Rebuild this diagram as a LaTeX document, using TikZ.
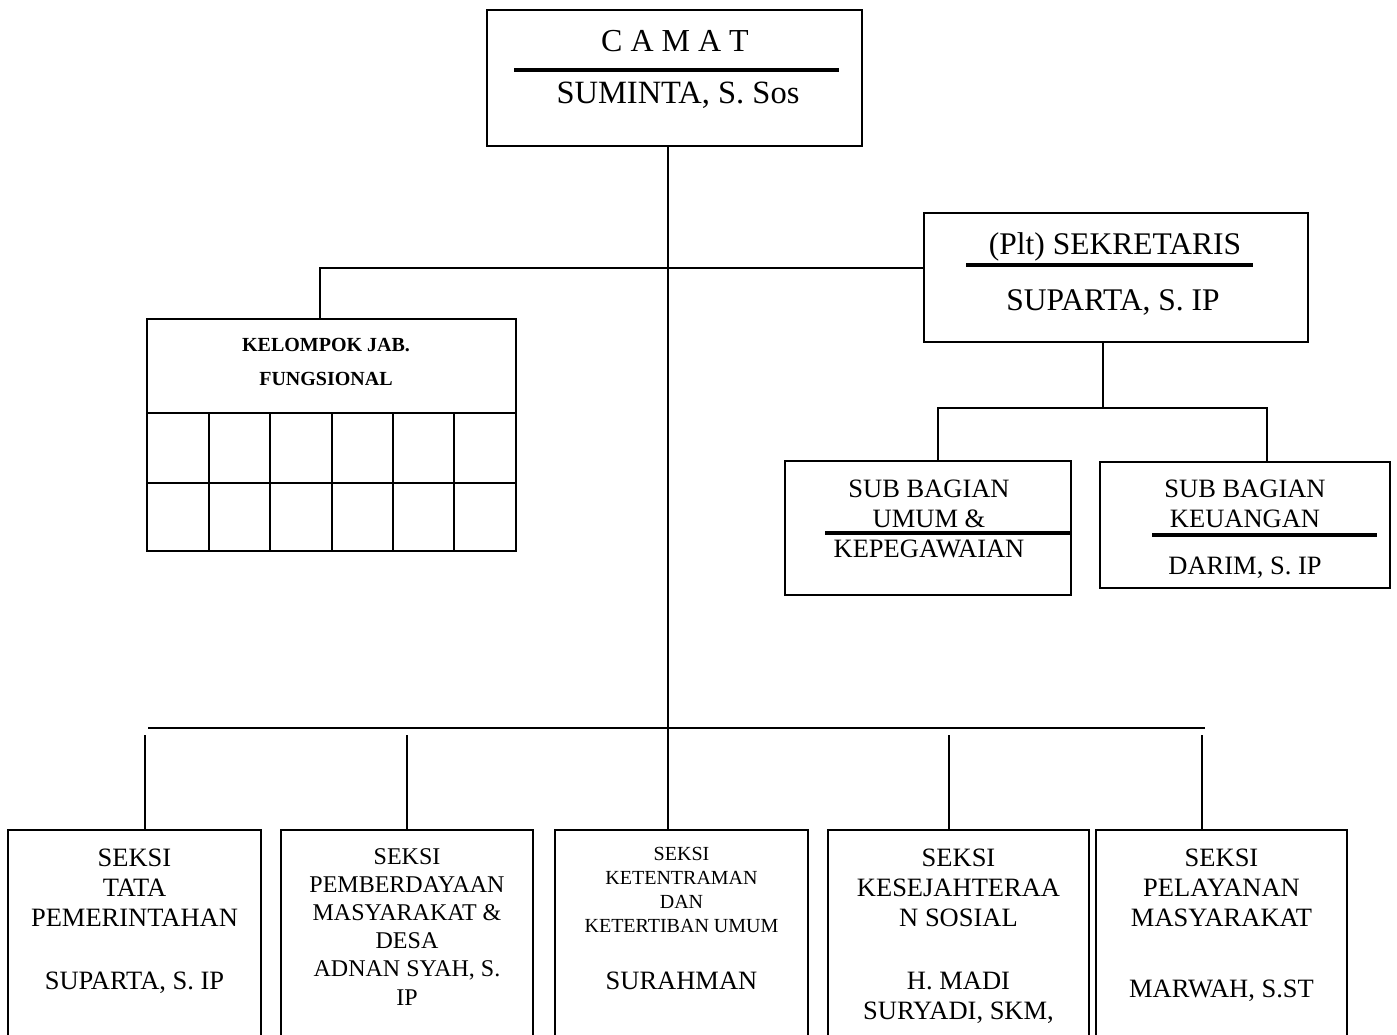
\documentclass[tikz,border=0pt]{standalone}
\usepackage{fontspec}
\setmainfont{Liberation Serif}
\usetikzlibrary{calc}
\tikzset{
  box/.style={draw, line width=1.8pt, inner sep=0pt},
  conn/.style={line width=1.6pt},
  rule/.style={line width=4pt},
  grid/.style={line width=1.8pt},
  lbl/.style={inner sep=0pt, anchor=base},
  fbig/.style={font=\fontsize{32}{36}\selectfont},
  fnorm/.style={font=\fontsize{26.5}{30}\selectfont},
  fmid/.style={font=\fontsize{24}{28}\selectfont},
  fsmall/.style={font=\fontsize{20}{24}\selectfont},
  fbold/.style={font=\fontsize{20}{24}\selectfont\bfseries}
}
\newcommand\stack[6][]{\foreach \t [count=\i] in {#6}{\node[lbl,#1] (#2-\i) at ({#3},{#4+(\i-1)*(#5)}) {\t};}}
\begin{document}
\begin{tikzpicture}[x=1pt,y=-1pt]
\useasboundingbox[fill=white] (0,0) rectangle (1397,1035);
% boxes
\node[box, minimum width=375, minimum height=136] (camat) at (674.5,78) {};
\node[box, minimum width=384, minimum height=129] (sek) at (1116,277.5) {};
\node[box, minimum width=369, minimum height=232] (kel) at (331.5,435) {};
\node[box, minimum width=286, minimum height=134] (umum) at (928,528) {};
\node[box, minimum width=290, minimum height=126] (keu) at (1245,525) {};
\node[box, minimum width=253, minimum height=220] (s1) at (134.5,940) {};
\node[box, minimum width=252, minimum height=220] (s2) at (407,940) {};
\node[box, minimum width=253, minimum height=220] (s3) at (681.5,940) {};
\node[box, minimum width=261, minimum height=220] (s4) at (958.5,940) {};
\node[box, minimum width=251, minimum height=220] (s5) at (1221.5,940) {};
% camat
\stack[fbig]{ca}{675}{52}{0}{C A M A T}
\draw[rule] (514,70) -- (839,70);
\stack[font=\fontsize{32.5}{36}\selectfont]{cn}{678}{104}{0}{{SUMINTA, S. Sos}}
% sekretaris
\node[lbl, font=\fontsize{31.5}{36}\selectfont] (sk-1) at (1115,254) {(Plt) SEKRETARIS};
\draw[rule] (966,265) -- (1253,265);
\node[lbl, font=\fontsize{31.5}{36}\selectfont] (sk-2) at (1113,310) {SUPARTA, S. IP};
% kelompok
\stack[fbold]{kl}{326}{351}{34}{{KELOMPOK JAB.},FUNGSIONAL}
\draw[grid] (kel.west |- 0,413) -- (kel.east |- 0,413);
\draw[grid] (kel.west |- 0,483) -- (kel.east |- 0,483);
\foreach \xx in {209,270,332,393,454} \draw[grid] (\xx,413) -- (\xx,551);
% sub bagian
\stack[fnorm]{um}{929}{497}{30}{SUB BAGIAN,UMUM \&,KEPEGAWAIAN}
\draw[rule] (825,533) -- (umum.east |- 0,533);
\stack[fnorm]{ku}{1245}{497}{30}{SUB BAGIAN,KEUANGAN}
\draw[rule] (1152,535) -- (1377,535);
\node[lbl, fnorm] (ku-3) at (1245,574) {DARIM, S. IP};
% seksi boxes
\stack[fnorm]{a}{134.5}{866}{30}{SEKSI,TATA,PEMERINTAHAN}
\node[lbl, fnorm] (a-4) at (134.5,989) {SUPARTA, S. IP};
\stack[fmid]{b}{407}{864}{28.2}{SEKSI,PEMBERDAYAAN,MASYARAKAT \&,DESA,{ADNAN SYAH, S.},IP}
\stack[fsmall]{c}{681.5}{860.5}{24}{SEKSI,KETENTRAMAN,DAN,KETERTIBAN UMUM}
\node[lbl, fnorm] (c-5) at (681.5,989) {SURAHMAN};
\stack[fnorm]{d}{958.5}{866}{30}{SEKSI,KESEJAHTERAA,N SOSIAL}
\stack[fnorm]{d2}{958.5}{989}{30}{H. MADI,{SURYADI, SKM,}}
\stack[fnorm]{e}{1221.5}{866}{30}{SEKSI,PELAYANAN,MASYARAKAT}
\node[lbl, fnorm] (e-4) at (1221.5,997) {MARWAH, S.ST};
% connectors
\coordinate (t0) at (668,146);
\draw[conn] (t0) -- (t0 |- s3.north);
\coordinate (k0) at (320,268);
\draw[conn] (k0 -| sek.west) -- (k0) -- (k0 |- kel.north);
\coordinate (j0) at (1103,342);
\coordinate (ja) at (938,408);
\coordinate (jb) at (1267,408);
\draw[conn] (j0) -- (j0 |- ja);
\draw[conn] (ja |- umum.north) -- (ja) -- (jb) -- (jb |- keu.north);
\coordinate (bl) at (148,728);
\coordinate (br) at (1205,728);
\draw[conn] (bl) -- (br);
\coordinate (d1) at (145,735);
\coordinate (d2) at (407,735);
\coordinate (d4) at (949,735);
\coordinate (d5) at (1202,735);
\draw[conn] (d1) -- (d1 |- s1.north);
\draw[conn] (d2) -- (d2 |- s2.north);
\draw[conn] (d4) -- (d4 |- s4.north);
\draw[conn] (d5) -- (d5 |- s5.north);
\end{tikzpicture}
\end{document}
